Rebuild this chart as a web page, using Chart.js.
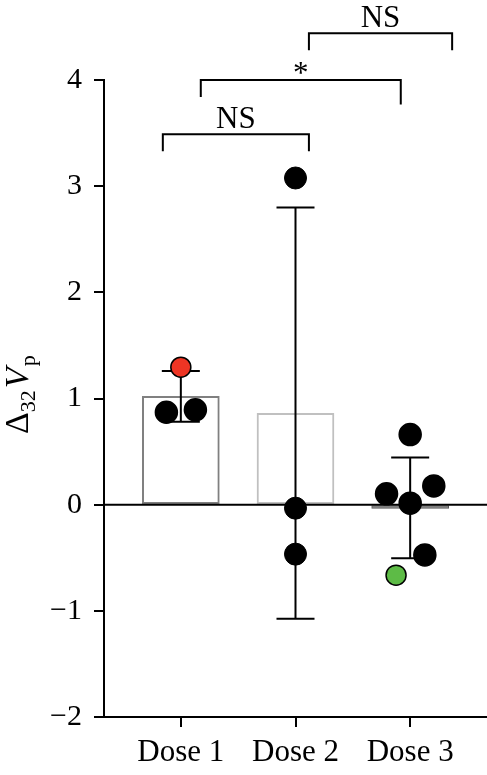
<!DOCTYPE html>
<html>
<head>
<meta charset="utf-8">
<script src="https://cdn.jsdelivr.net/npm/chart.js@4.4.0/dist/chart.umd.min.js"></script>
<style>
  html, body { margin: 0; padding: 0; background: #fff; }
  canvas { display: block; }
</style>
</head>
<body>
<canvas id="myChart" width="487" height="775"></canvas>
<script>
// groups and summary values
const groups = ['Dose 1', 'Dose 2', 'Dose 3'];
const means = [1.02, 0.86, -0.035];
const sdLow = [0.78, -1.075, -0.505];
const sdHigh = [1.26, 2.80, 0.445];

// individual points (x = group position with jitter)
const dose1X = [1.0, 0.874, 1.127];
const dose1Y = [1.295, 0.871, 0.893];
const dose2X = [2.0, 2.0, 2.0];
const dose2Y = [3.077, -0.033, -0.466];
const dose3X = [3.0, 2.794, 3.206, 3.0, 3.128, 2.877];
const dose3Y = [0.66, 0.102, 0.177, 0.014, -0.473, -0.664];

const yTicks = [-2, -1, 0, 1, 2, 3, 4];

// significance comparisons
const compLabels = ['NS', '*', 'NS'];
// bracket geometry in data units: [xLeft, xRight, yLine, yLeftEnd, yRightEnd]
const compGeom = [
  [0.843, 2.117, 3.49, 3.33, 3.33],
  [1.174, 2.918, 4.0, 3.84, 3.77],
  [2.117, 3.366, 4.44, 4.28, 4.28],
];

const FONT = '"Liberation Serif", "DejaVu Serif", serif';

const pointsOf = (xs, ys) => xs.map((x, i) => ({ x: x, y: ys[i] }));

const overlay = {
  id: 'overlay',
  afterDatasetDraw: (chart, args) => {
    if (args.index !== 0) return;
    const { ctx, chartArea: { left, right }, scales: { x, y } } = chart;
    ctx.save();
    ctx.strokeStyle = '#000';
    ctx.lineWidth = 2;
    // zero line
    const y0 = y.getPixelForValue(0);
    ctx.beginPath();
    ctx.moveTo(left, y0);
    ctx.lineTo(right, y0);
    ctx.stroke();
    // error bars
    const cap = 19;
    groups.forEach((g, i) => {
      const px = x.getPixelForValue(i + 1);
      const lo = y.getPixelForValue(sdLow[i]);
      const hi = y.getPixelForValue(sdHigh[i]);
      ctx.beginPath();
      ctx.moveTo(px, lo); ctx.lineTo(px, hi);
      ctx.moveTo(px - cap, lo); ctx.lineTo(px + cap, lo);
      ctx.moveTo(px - cap, hi); ctx.lineTo(px + cap, hi);
      ctx.stroke();
    });
    ctx.restore();
  },
  afterDraw: (chart) => {
    const { ctx, scales: { x, y } } = chart;
    ctx.save();
    ctx.strokeStyle = '#000';
    ctx.fillStyle = '#000';
    ctx.lineWidth = 2;
    // brackets
    compGeom.forEach((b, i) => {
      const xl = x.getPixelForValue(b[0]);
      const xr = x.getPixelForValue(b[1]);
      const yl = y.getPixelForValue(b[2]);
      ctx.beginPath();
      ctx.moveTo(xl, y.getPixelForValue(b[3]));
      ctx.lineTo(xl, yl);
      ctx.lineTo(xr, yl);
      ctx.lineTo(xr, y.getPixelForValue(b[4]));
      ctx.stroke();
      ctx.font = '31px ' + FONT;
      ctx.textAlign = 'center';
      ctx.textBaseline = 'alphabetic';
      const off = compLabels[i] === '*' ? 3 : -6;
      ctx.fillText(compLabels[i], (xl + xr) / 2, yl + off);
    });
    // y axis title: Δ32Vp
    ctx.translate(28, 434);
    ctx.rotate(-Math.PI / 2);
    ctx.textAlign = 'left';
    ctx.textBaseline = 'alphabetic';
    let cx = 0;
    const part = (txt, font, dy) => {
      ctx.font = font;
      ctx.fillText(txt, cx, dy);
      cx += ctx.measureText(txt).width;
    };
    part('\u0394', '34px ' + FONT, 0);
    part('32', '22px ' + FONT, 7);
    cx += 2;
    part('V', 'italic 34px ' + FONT, 0);
    cx += 1;
    part('p', '22px ' + FONT, 7);
    ctx.restore();
  }
};

const config = {
  type: 'bar',
  data: {
    datasets: [
      {
        label: 'Mean',
        data: pointsOf([1, 2, 3], means),
        backgroundColor: ['#ffffff', '#ffffff', '#8c8c8c'],
        borderColor: ['#808080', '#c0c0c0', '#555555'],
        borderWidth: [2, 2, 1],
        borderSkipped: false,
        barThickness: 77,
        order: 2,
      },
      {
        type: 'scatter',
        label: 'Dose 1',
        data: pointsOf(dose1X, dose1Y),
        pointBackgroundColor: ['#ee3524', '#000', '#000'],
        pointBorderColor: '#000',
        pointBorderWidth: 1.5,
        pointRadius: [10, 11, 11],
        pointHoverRadius: [10, 11, 11],
        order: 1,
      },
      {
        type: 'scatter',
        label: 'Dose 2',
        data: pointsOf(dose2X, dose2Y),
        pointBackgroundColor: '#000',
        pointBorderColor: '#000',
        pointRadius: 11,
        order: 1,
      },
      {
        type: 'scatter',
        label: 'Dose 3',
        data: pointsOf(dose3X, dose3Y),
        pointBackgroundColor: ['#000', '#000', '#000', '#000', '#000', '#5dbb46'],
        pointBorderColor: '#000',
        pointBorderWidth: 1.5,
        pointRadius: [11, 11, 11, 11, 11, 10],
        order: 1,
      },
    ]
  },
  options: {
    responsive: false,
    animation: false,
    devicePixelRatio: 1,
    layout: { autoPadding: false, padding: { top: 80, right: 0, left: 0, bottom: 0 } },
    plugins: {
      legend: { display: false },
      tooltip: { enabled: false },
    },
    scales: {
      x: {
        type: 'linear',
        offset: false,
        min: 0.33,
        max: 3.67,
        afterBuildTicks: (axis) => {
          axis.ticks = groups.map((g, i) => ({ value: i + 1 }));
        },
        afterFit: (axis) => {
          axis.height = 58;
          axis.paddingLeft = 0;
          axis.paddingRight = 0;
        },
        ticks: {
          color: '#000',
          font: { family: FONT, size: 31 },
          padding: 7,
          maxRotation: 0,
          callback: (v) => groups[Math.round(v) - 1],
        },
        grid: {
          offset: false,
          drawOnChartArea: false,
          tickLength: 10,
          tickColor: '#000',
          lineWidth: 2,
        },
        border: { display: true, color: '#000', width: 2 },
      },
      y: {
        min: -2,
        max: 4,
        afterBuildTicks: (axis) => {
          axis.ticks = yTicks.map(v => ({ value: v }));
        },
        afterFit: (axis) => {
          axis.width = 104;
          axis.paddingTop = 0;
          axis.paddingBottom = 0;
        },
        ticks: {
          color: '#000',
          font: { family: FONT, size: 30 },
          padding: 12,
          callback: (v) => v < 0 ? '\u2212' + Math.abs(v) : String(v),
        },
        grid: {
          drawOnChartArea: false,
          tickLength: 10,
          tickColor: '#000',
          lineWidth: 2,
        },
        border: { display: true, color: '#000', width: 2 },
      }
    }
  },
  plugins: [overlay]
};

const ctx = document.getElementById('myChart').getContext('2d');
new Chart(ctx, config);
</script>
</body>
</html>
